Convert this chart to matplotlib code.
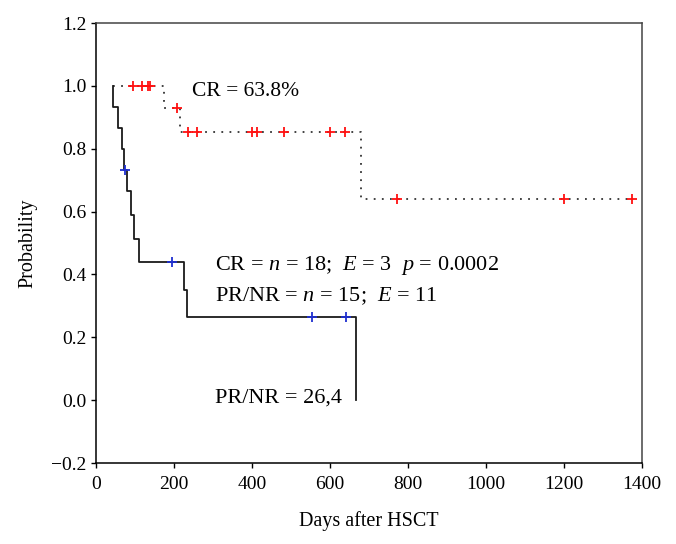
import matplotlib
matplotlib.use("Agg")
import matplotlib.pyplot as plt

plt.rcParams['font.family'] = ['Liberation Serif', 'DejaVu Serif']
plt.rcParams['mathtext.fontset'] = 'custom'
plt.rcParams['mathtext.rm'] = 'Liberation Serif'
plt.rcParams['mathtext.it'] = 'Liberation Serif:italic'

# CR group (Kaplan-Meier step curve)
cr_times = [43, 174, 215, 679, 1375]
cr_surv = [1.0, 0.929, 0.853, 0.640, 0.640]
cr_cens_t = [96, 117, 134, 138, 207, 237, 258, 399, 412, 483, 601, 639, 771, 1201, 1375]
cr_cens_s = [1.0, 1.0, 1.0, 1.0, 0.929, 0.853, 0.853, 0.853, 0.853, 0.853, 0.853, 0.853,
             0.640, 0.640, 0.640]

# PR/NR group
pr_times = [43, 43, 57, 66, 72, 79, 89, 98, 110, 225, 233, 666]
pr_surv = [1.0, 0.933, 0.867, 0.800, 0.733, 0.664, 0.590, 0.514, 0.440, 0.352, 0.266, 0.0]
pr_cens_t = [75, 195, 553, 640]
pr_cens_s = [0.733, 0.440, 0.266, 0.266]

xticks = [0, 200, 400, 600, 800, 1000, 1200, 1400]
yticks = [-0.2, 0.0, 0.2, 0.4, 0.6, 0.8, 1.0, 1.2]

fig = plt.figure(figsize=(6.76, 5.44), dpi=100)
ax = fig.add_axes([96/676, 1-463/544, (642-96)/676, (463-23)/544])

ax.plot(cr_times, cr_surv, drawstyle='steps-post', color='#333333',
        linestyle=(0, (1, 3.5)), linewidth=1.3)
ax.plot(cr_cens_t, cr_cens_s, linestyle='none', marker='+', color='#ff1010',
        markersize=7.5, markeredgewidth=1.3)

ax.plot(pr_times, pr_surv, drawstyle='steps-post', color='#1a1a1a', linewidth=1.3)
ax.plot(pr_cens_t, pr_cens_s, linestyle='none', marker='+', color='#1f2fd0',
        markersize=7.5, markeredgewidth=1.3)

ax.set_xlim(0, 1400)
ax.set_ylim(-0.2, 1.2)
ax.set_xticks(xticks)
ax.set_xticklabels([str(t) for t in xticks])
ax.set_yticks(yticks)
ax.set_yticklabels(['\u22120.2' if t < 0 else f'{t:.1f}' for t in yticks])
ax.tick_params(direction='out', length=3.5, width=1, labelsize=14, colors='black',
               top=False, right=False)
ax.tick_params(axis='x', pad=6)
for s in ['left', 'bottom']:
    ax.spines[s].set_color('black')
    ax.spines[s].set_linewidth(1.1)
for s in ['top', 'right']:
    ax.spines[s].set_color('#444444')
    ax.spines[s].set_linewidth(1.1)

ax.set_xlabel('Days after HSCT', fontsize=14.5, labelpad=13)
ax.set_ylabel('Probability', fontsize=14.5, labelpad=10)

ax.text(245, 0.982, 'CR = 63.8%', fontsize=15.5, va='center', ha='left')
ax.text(305, 0.428, r'CR = $n$ = 18;  $E$ = 3  $p$ = 0.0002', fontsize=16, va='center', ha='left')
ax.text(305, 0.332, r'PR/NR = $n$ = 15;  $E$ = 11', fontsize=16, va='center', ha='left')
ax.text(305, 0.008, 'PR/NR = 26,4', fontsize=16, va='center', ha='left')

fig.savefig('out.png', dpi=100)
